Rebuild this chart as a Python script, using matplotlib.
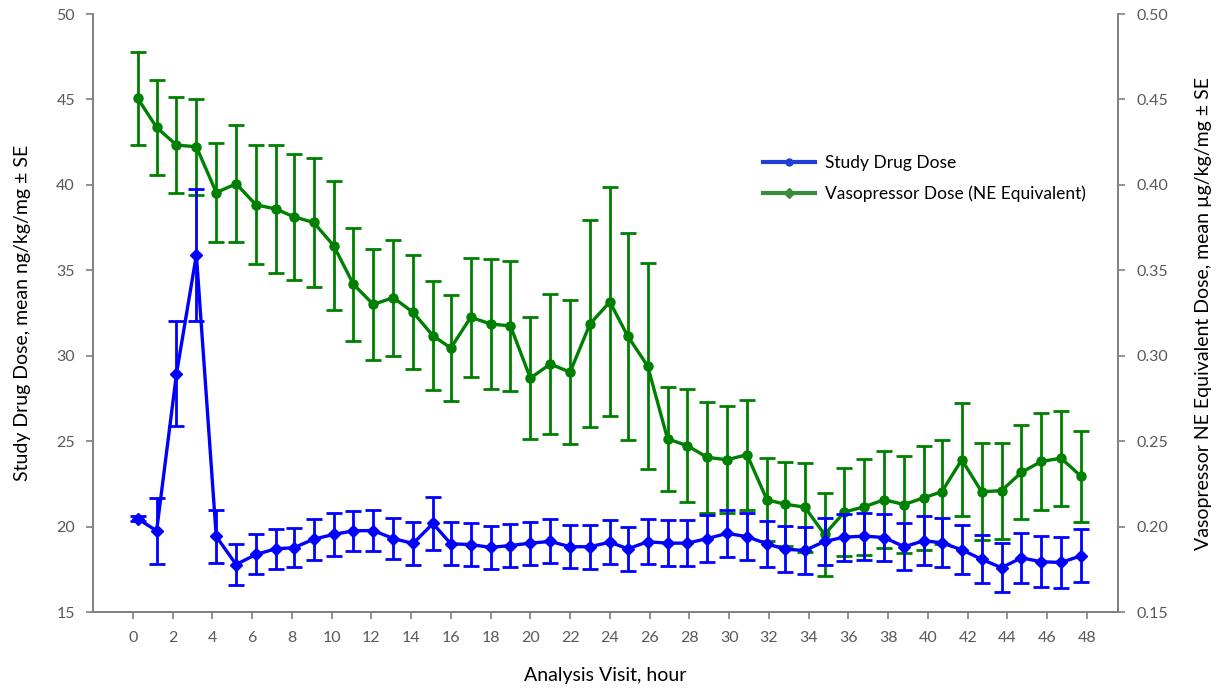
import numpy as np
import matplotlib.pyplot as plt
from matplotlib.lines import Line2D

plt.rcParams['font.family'] = ['Lato', 'DejaVu Sans']

# visit times (hours) as plotted
hours = [0.25, 1.2, 2.2, 3.2, 4.2, 5.2, 6.2, 7.2, 8.1, 9.1, 10.1, 11.1, 12.1,
         13.1, 14.1, 15.1, 16.0, 17.0, 18.0, 19.0, 20.0, 21.0, 22.0, 23.0,
         24.0, 24.9, 25.9, 26.9, 27.9, 28.9, 29.9, 30.9, 31.9, 32.8, 33.8,
         34.8, 35.8, 36.8, 37.8, 38.8, 39.8, 40.7, 41.7, 42.7, 43.7, 44.7,
         45.7, 46.7, 47.7]

# study drug dose, ng/kg/min (left axis)
drug_mean = [20.46, 19.75, 28.95, 35.9, 19.42, 17.78, 18.37, 18.7, 18.76,
             19.26, 19.54, 19.75, 19.77, 19.3, 19.01, 20.18, 18.99, 18.95,
             18.78, 18.89, 19.03, 19.13, 18.82, 18.82, 19.09, 18.7, 19.11,
             19.03, 19.03, 19.3, 19.6, 19.41, 18.99, 18.68, 18.6, 19.13,
             19.38, 19.44, 19.36, 18.82, 19.17, 19.05, 18.64, 18.09, 17.59,
             18.17, 17.94, 17.9, 18.29]
drug_se = [0.14, 1.93, 3.07, 3.87, 1.54, 1.19, 1.17, 1.16, 1.15, 1.19, 1.24,
           1.19, 1.22, 1.19, 1.23, 1.54, 1.25, 1.25, 1.25, 1.25, 1.26, 1.29,
           1.25, 1.28, 1.29, 1.28, 1.31, 1.35, 1.35, 1.4, 1.38, 1.37, 1.35,
           1.35, 1.35, 1.38, 1.37, 1.37, 1.4, 1.37, 1.43, 1.43, 1.43, 1.42,
           1.43, 1.48, 1.49, 1.49, 1.55]

# vasopressor NE equivalent dose, ug/kg/min (right axis)
vaso_mean = [0.4506, 0.4336, 0.4233, 0.4223, 0.3955, 0.4006, 0.3883, 0.3859,
             0.3813, 0.378, 0.3645, 0.3418, 0.330, 0.334, 0.3254, 0.3117,
             0.3045, 0.3225, 0.3186, 0.3174, 0.2869, 0.2951, 0.2904, 0.3186,
             0.3315, 0.3114, 0.294, 0.2514, 0.2473, 0.2405, 0.2391, 0.2421,
             0.2157, 0.2131, 0.2114, 0.1954, 0.2085, 0.2116, 0.2157, 0.2129,
             0.2169, 0.2204, 0.2391, 0.2204, 0.221, 0.2317, 0.2381, 0.24,
             0.2294]
vaso_se = [0.0272, 0.0279, 0.0281, 0.028, 0.0289, 0.0342, 0.0348, 0.0372,
           0.0369, 0.0378, 0.038, 0.033, 0.0323, 0.0339, 0.0333, 0.0319,
           0.031, 0.0347, 0.0379, 0.038, 0.0358, 0.041, 0.0421, 0.0606,
           0.067, 0.0607, 0.0603, 0.0305, 0.033, 0.0323, 0.0313, 0.0322,
           0.0243, 0.0246, 0.026, 0.0242, 0.0255, 0.0281, 0.0284, 0.0282,
           0.0304, 0.0304, 0.0331, 0.0284, 0.028, 0.0275, 0.0284, 0.0279,
           0.0267]

xticks = list(range(0, 49, 2))

blue = '#0000ff'
green = '#008000'
gray = '#7f7f7f'
tick_color = '#595959'

fig = plt.figure(figsize=(12.17, 6.89), dpi=100)
ax = fig.add_axes([93 / 1217, 1 - 612 / 689, 1025 / 1217, 598 / 689])
ax2 = ax.twinx()

ax2.errorbar(hours, vaso_mean, yerr=vaso_se, color=green, lw=2.4,
             marker='o', ms=6.5, capsize=5.7, elinewidth=2, capthick=2)
ax.errorbar(hours, drug_mean, yerr=drug_se, color=blue, lw=2.4,
            marker='D', ms=6, capsize=5.7, elinewidth=2, capthick=2)

# blue series drawn over the green one
ax.set_zorder(ax2.get_zorder() + 1)
ax.patch.set_visible(False)

ax.set_xlim(-2, 49.56)
ax.set_ylim(15, 50)
ax2.set_ylim(0.15, 0.50)
ax.set_xticks(xticks)
ax.set_yticks(range(15, 51, 5))
ax2.set_yticks(np.arange(0.15, 0.501, 0.05))
ax2.set_yticklabels([f'{v:.2f}' for v in np.arange(0.15, 0.501, 0.05)])

for a in (ax, ax2):
    a.spines['top'].set_visible(False)
    for s in ('left', 'right', 'bottom'):
        a.spines[s].set_color(gray)
        a.spines[s].set_linewidth(1.2)
    a.tick_params(colors=gray, labelcolor=tick_color, labelsize=11.5,
                  length=5, width=1.2, pad=8)
ax.tick_params(axis='x', pad=9)

ax.set_xlabel('Analysis Visit, hour', fontsize=14)
ax.set_ylabel('Study Drug Dose, mean ng/kg/mg ± SE', fontsize=14)
ax2.set_ylabel('Vasopressor NE Equivalent Dose, mean µg/kg/mg ± SE',
               fontsize=14, rotation=90)
ax.xaxis.set_label_coords(0.5, -0.092)
ax.yaxis.set_label_coords(-0.06, 0.5)
ax2.yaxis.set_label_coords(1.075, 0.5)

handles = [Line2D([], [], color='#1f3fd8', lw=3, marker='o', ms=5),
           Line2D([], [], color='#3a8c3a', lw=3, marker='D', ms=5)]
ax.legend(handles, ['Study Drug Dose', 'Vasopressor Dose (NE Equivalent)'],
          loc='upper left', bbox_to_anchor=(0.638, 0.79), frameon=False,
          fontsize=12.5, handlelength=3.0, handletextpad=0.6, labelspacing=0.8)

fig.savefig('out.png', dpi=100)
